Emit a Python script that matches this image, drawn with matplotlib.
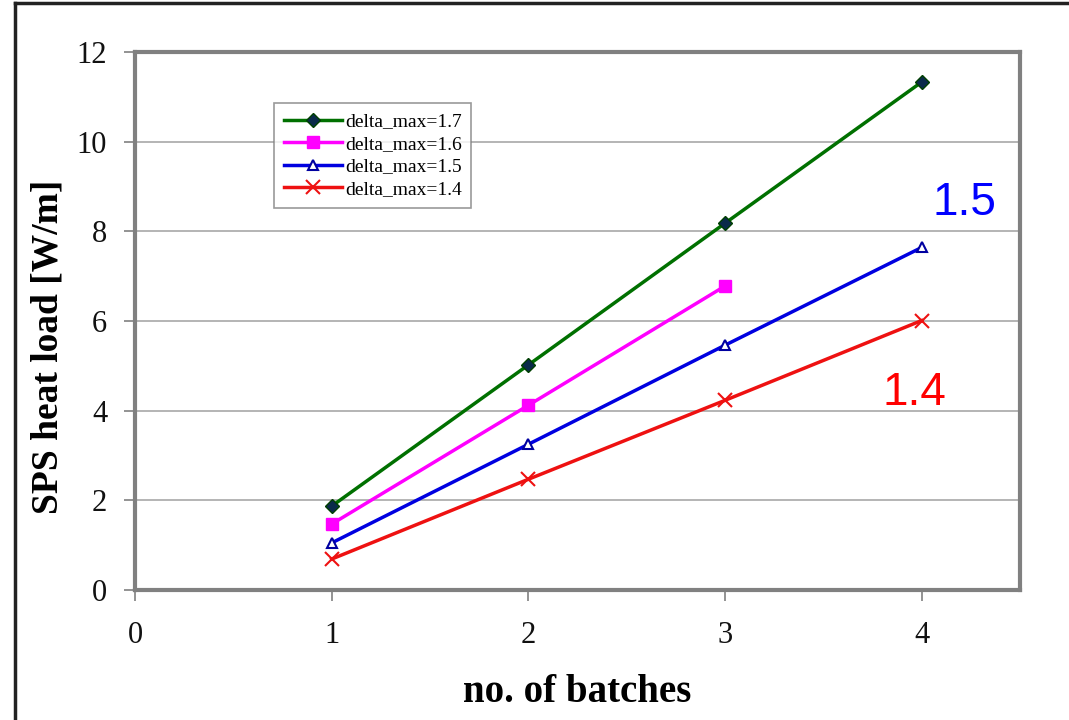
import matplotlib.pyplot as plt
from matplotlib.lines import Line2D

batches = [1, 2, 3, 4]
d17 = [1.87, 5.02, 8.18, 11.33]
d16 = [1.47, 4.12, 6.78]
d15 = [1.05, 3.25, 5.46, 7.64]
d14 = [0.69, 2.47, 4.23, 6.01]

plt.rcParams['font.family'] = ['Liberation Serif', 'DejaVu Serif']

fig = plt.figure(figsize=(10.69, 7.2), dpi=100)
ax = fig.add_axes([135 / 1069, 1 - 590 / 720, 885 / 1069, 538 / 720])

ax.plot(batches, d17, color='#007000', lw=2.5, marker='D', ms=7,
        mfc='#0a2a4a', mec='#004000', label='delta_max=1.7')
ax.plot(batches[:3], d16, color='#ff00ff', lw=2.5, marker='s', ms=9,
        label='delta_max=1.6')
ax.plot(batches, d15, color='#0000e0', lw=2.5, marker='^', ms=7,
        mfc='white', mec='#0000a0', mew=1.5, label='delta_max=1.5')
ax.plot(batches, d14, color='#ee1111', lw=2.5, marker='x', ms=10,
        mew=1.5, label='delta_max=1.4')

ax.set_xlim(0, 4.5)
ax.set_ylim(0, 12)
ax.set_xticks([0, 1, 2, 3, 4])
ax.set_yticks(range(0, 13, 2))
ax.yaxis.grid(True, color='#a8a8a8', lw=1.2)
ax.set_axisbelow(True)
for s in ax.spines.values():
    s.set_color('#808080')
    s.set_linewidth(3)
ax.tick_params(labelsize=22, colors='#808080', labelcolor='#111111',
               length=8, width=1.2)
ax.tick_params(axis='x', pad=14)
ax.tick_params(axis='y', pad=12)

# axis titles placed by figure position, as in the original
fig.text(48 / 1069, 1 - 347 / 720, 'SPS heat load [W/m]', fontsize=27,
         fontweight='bold', rotation=90, ha='center', va='center')
fig.text(577 / 1069, 1 - 693 / 720, 'no. of batches', fontsize=28,
         fontweight='bold', ha='center', va='center')

leg = ax.legend(loc='upper left', bbox_to_anchor=(0.157, 0.905), fontsize=14,
                frameon=True, fancybox=False, edgecolor='#808080',
                handlelength=3.0, handletextpad=0.15, labelspacing=0.25,
                borderpad=0.5, borderaxespad=0)
leg.get_frame().set_linewidth(1.2)

ax.text(4.056, 8.36, '1.5', color='#0000ff', fontsize=33, family='Liberation Sans')
ax.text(3.80, 4.13, '1.4', color='#ff0000', fontsize=33, family='Liberation Sans')

# outer frame (left and top edges)
fig.add_artist(Line2D([15 / 1069, 15 / 1069], [0, 1 - 3 / 720], color='#222222', lw=2.5))
fig.add_artist(Line2D([15 / 1069, 1], [1 - 3 / 720, 1 - 3 / 720], color='#222222', lw=2.5))

fig.savefig('out.png', dpi=100)
